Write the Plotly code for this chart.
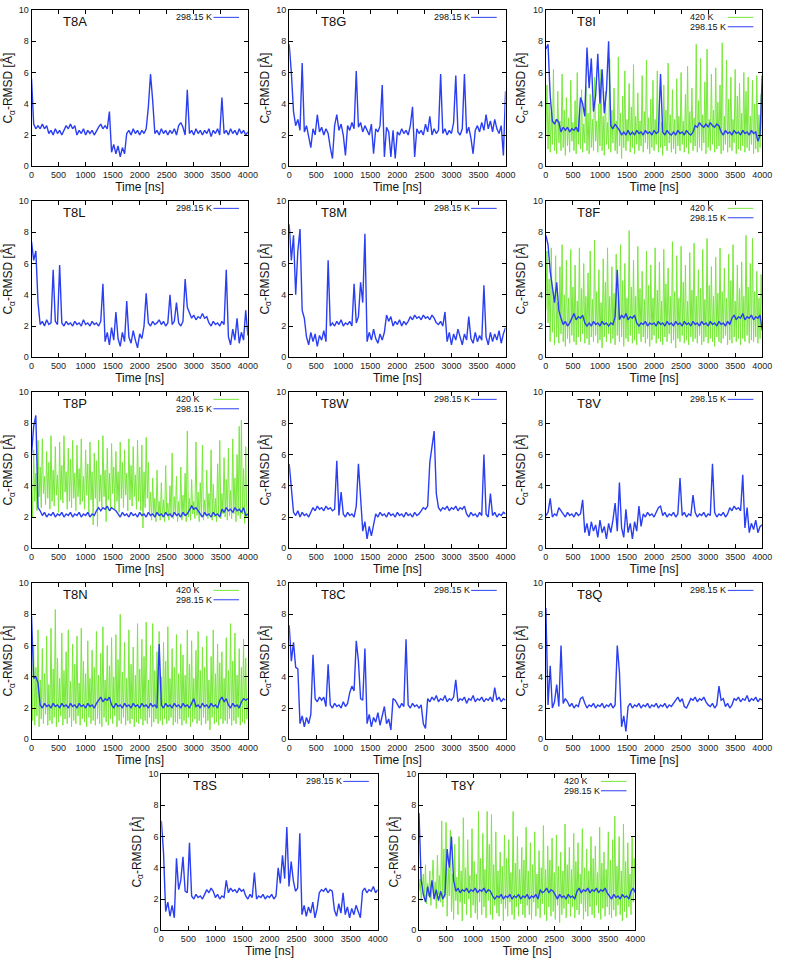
import plotly.graph_objects as go

# time grids (ns)
t = list(range(0, 4001, 40))
tg = list(range(0, 4001, 20))

# 298.15 K traces, sampled every 40 ns
T8A = [5.6, 2.7, 2.4, 2.6, 2.4, 2.7, 2.4, 2.6, 2.1, 2.3,
       2.0, 2.4, 2.1, 2.3, 2.0, 2.3, 2.6, 2.4, 2.7, 2.4,
       2.6, 2.0, 2.3, 2.1, 2.4, 2.0, 2.3, 2.1, 2.3, 2.0,
       2.3, 2.5, 2.7, 2.4, 2.6, 2.4, 3.5, 0.9, 1.4, 0.8,
       1.3, 0.6, 1.2, 0.8, 2.1, 2.3, 2.0, 2.4, 2.1, 2.3,
       2.0, 2.3, 2.1, 2.4, 3.8, 5.9, 4.2, 2.1, 2.3, 2.0,
       2.4, 2.1, 2.3, 2.0, 2.3, 2.1, 2.4, 2.0, 2.6, 2.8,
       2.5, 2.0, 4.9, 2.1, 2.3, 2.0, 2.4, 2.1, 2.3, 2.0,
       2.3, 2.1, 2.4, 1.9, 2.3, 2.1, 2.4, 2.0, 4.4, 2.1,
       2.3, 2.0, 2.4, 2.1, 2.3, 2.0, 2.4, 2.1, 2.3, 2.0, 2.2]
T8G = [7.8, 6.0, 3.5, 2.6, 3.0, 2.3, 6.6, 2.2, 2.6, 2.0,
       1.2, 2.4, 2.0, 3.3, 2.2, 2.5, 2.0, 2.4, 2.1, 1.2,
       0.5, 2.6, 3.3, 2.3, 2.7, 2.0, 0.7, 2.6, 2.3, 2.8,
       2.4, 6.1, 2.5, 2.8, 2.2, 2.6, 2.3, 2.0, 2.7, 0.8,
       2.4, 2.2, 2.6, 5.2, 0.6, 2.5, 2.2, 0.6, 2.3, 0.5,
       2.2, 2.0, 2.4, 2.1, 2.3, 2.0, 2.6, 3.8, 0.6, 2.4,
       2.1, 2.3, 2.0, 2.7, 2.2, 3.2, 2.0, 2.4, 2.1, 2.3,
       5.9, 2.1, 2.4, 2.0, 2.3, 2.1, 2.8, 5.8, 2.2, 2.0,
       2.4, 5.9, 2.1, 2.5, 1.8, 0.8, 2.3, 2.6, 2.2, 2.8,
       2.3, 3.3, 2.4, 2.9, 2.2, 3.0, 2.4, 2.1, 2.6, 0.7, 4.8]
T8I = [7.5, 7.8, 4.5, 2.9, 2.7, 3.0, 2.8, 2.2, 2.5, 2.3,
       2.5, 2.2, 2.4, 2.3, 2.5, 2.2, 4.4, 4.0, 3.2, 7.6,
       5.0, 6.9, 3.5, 4.5, 7.2, 4.0, 6.2, 3.4, 4.8, 8.0,
       2.6, 2.4, 2.7, 2.5, 2.3, 2.0, 2.2, 2.0, 2.3, 2.0,
       2.2, 2.0, 2.3, 2.1, 2.2, 2.0, 2.3, 2.1, 2.2, 2.0,
       2.3, 2.1, 2.2, 5.9, 2.2, 2.0, 2.3, 2.1, 2.0, 2.2,
       2.0, 2.3, 2.1, 2.2, 2.0, 2.3, 2.1, 2.0, 2.2, 2.6,
       2.5, 2.8, 2.6, 2.5, 2.7, 2.5, 2.8, 2.6, 2.5, 2.7,
       2.6, 2.2, 2.0, 2.3, 2.1, 2.2, 2.0, 2.3, 2.1, 2.2,
       2.0, 2.3, 2.1, 2.2, 2.0, 2.3, 2.1, 2.2, 1.6, 2.0, 5.8]
T8L = [7.4, 6.2, 6.8, 3.5, 2.1, 2.3, 2.0, 2.4, 2.1, 2.2,
       5.6, 2.3, 2.1, 5.9, 2.2, 2.0, 2.3, 2.1, 2.2, 2.0,
       2.3, 2.1, 2.2, 2.0, 2.4, 2.1, 2.2, 2.0, 2.3, 2.1,
       2.2, 2.0, 2.3, 4.7, 1.0, 1.6, 0.8, 1.9, 1.1, 2.9,
       1.2, 0.7, 1.6, 1.0, 3.6, 1.3, 0.9, 1.7, 1.1, 0.6,
       1.5, 1.2, 2.0, 4.1, 2.2, 2.0, 2.3, 2.1, 2.2, 2.4,
       2.1, 2.3, 2.0, 2.2, 4.0, 2.1, 2.3, 3.5, 2.2, 2.0,
       2.3, 5.0, 3.2, 2.9, 2.5, 2.7, 2.4, 2.6, 2.5, 2.8,
       2.5, 2.6, 2.2, 2.0, 2.3, 2.1, 2.2, 2.0, 2.3, 2.1,
       5.6, 1.3, 0.8, 1.8, 1.1, 2.5, 0.9, 1.6, 1.1, 3.0, 1.4]
T8M = [8.5, 6.2, 7.8, 4.0, 6.8, 8.2, 3.0, 2.5, 1.3, 0.8,
       1.6, 1.0, 1.5, 0.7, 1.4, 1.1, 1.7, 1.0, 6.2, 2.0,
       2.2, 2.0, 2.3, 2.1, 2.4, 2.0, 2.2, 2.1, 2.3, 2.0,
       4.7, 2.2, 2.6, 4.8, 3.5, 7.9, 1.0, 1.6, 1.1, 1.8,
       1.2, 0.9, 1.5, 1.1, 1.6, 2.7, 2.3, 2.6, 2.0, 2.3,
       2.1, 2.4, 2.0, 2.3, 2.1, 2.3, 2.6, 2.4, 2.7, 2.5,
       2.6, 2.4, 2.7, 2.5, 2.6, 2.4, 2.7, 2.5, 2.2, 2.1,
       2.3, 2.0, 2.9, 1.0, 1.6, 0.8, 1.5, 1.1, 1.8, 1.2,
       0.8, 1.5, 1.1, 2.6, 1.2, 0.9, 1.6, 1.0, 1.4, 1.1,
       4.6, 1.3, 0.8, 1.6, 1.0, 1.5, 1.1, 1.7, 0.9, 1.5, 1.9]
T8F = [7.8, 7.2, 5.5, 4.5, 3.5, 4.8, 3.0, 2.5, 2.1, 2.3,
       2.0, 2.2, 2.5, 2.8, 2.4, 2.6, 2.5, 2.7, 2.2, 2.0,
       2.2, 2.0, 2.3, 2.1, 2.2, 2.0, 2.3, 2.1, 2.2, 2.0,
       2.2, 2.1, 2.6, 5.6, 2.4, 2.7, 2.5, 2.8, 2.4, 2.6,
       2.5, 2.7, 2.2, 2.0, 2.2, 2.1, 2.3, 2.0, 2.2, 2.1,
       2.2, 2.0, 2.3, 2.1, 2.2, 2.0, 2.3, 2.1, 2.2, 2.0,
       2.3, 2.1, 2.2, 2.0, 2.3, 2.1, 2.2, 2.0, 2.3, 2.1,
       2.2, 2.0, 2.3, 2.1, 2.2, 2.0, 2.3, 2.1, 2.2, 2.0,
       2.3, 2.1, 2.2, 2.0, 2.3, 2.1, 2.5, 2.7, 2.4, 2.6,
       2.5, 2.8, 2.4, 2.6, 2.5, 2.7, 2.4, 2.6, 2.5, 2.7, 1.7]
T8P = [6.0, 7.8, 8.5, 2.6, 2.4, 2.1, 2.3, 2.0, 2.2, 2.1,
       2.3, 2.0, 2.2, 2.1, 2.3, 2.0, 2.2, 2.1, 2.3, 2.0,
       2.2, 2.1, 2.3, 2.0, 2.2, 2.1, 2.3, 2.0, 2.2, 2.1,
       2.4, 2.6, 2.4, 2.6, 2.5, 2.7, 2.4, 2.6, 2.5, 2.4,
       2.2, 2.0, 2.3, 2.1, 2.2, 2.0, 2.3, 2.1, 2.2, 2.0,
       2.3, 2.1, 2.2, 2.0, 2.3, 2.1, 2.2, 2.0, 2.3, 2.1,
       2.2, 2.0, 2.3, 2.1, 2.2, 2.0, 2.3, 2.1, 2.2, 2.0,
       2.3, 2.1, 2.2, 2.5, 2.7, 2.5, 2.6, 2.4, 2.2, 2.0,
       2.3, 2.1, 2.2, 2.0, 2.3, 2.1, 2.2, 2.0, 2.5, 2.3,
       2.6, 2.4, 2.5, 2.3, 2.6, 2.4, 2.5, 2.3, 2.6, 2.1, 2.2]
T8W = [5.4, 3.6, 2.3, 2.1, 2.4, 2.0, 2.3, 2.1, 2.2, 2.0,
       2.3, 2.6, 2.4, 2.7, 2.5, 2.6, 2.4, 2.7, 2.5, 2.6,
       2.4, 2.5, 5.6, 2.1, 3.6, 2.2, 2.0, 2.3, 2.1, 2.2,
       2.0, 2.7, 5.4, 3.0, 1.1, 1.7, 0.6, 1.4, 0.8, 1.5,
       2.2, 2.0, 2.3, 2.1, 2.2, 2.0, 2.3, 2.1, 2.2, 2.0,
       2.3, 2.1, 2.2, 2.0, 2.3, 2.1, 2.2, 2.0, 2.3, 2.1,
       2.2, 2.4, 2.6, 2.5, 2.7, 5.5, 6.6, 7.5, 3.5, 2.6,
       2.4, 2.6, 2.5, 2.7, 2.4, 2.6, 2.5, 2.7, 2.4, 2.6,
       2.5, 2.7, 2.2, 2.0, 2.3, 2.1, 2.2, 2.0, 2.3, 2.1,
       6.0, 2.2, 2.0, 3.5, 2.1, 2.3, 2.0, 2.2, 2.1, 2.3, 2.2]
T8V = [2.1, 2.3, 3.2, 2.0, 2.2, 2.1, 2.6, 2.4, 2.2, 2.0,
       2.3, 2.1, 2.2, 2.0, 2.3, 2.1, 2.2, 3.1, 1.0, 1.6,
       0.8, 1.7, 1.1, 1.5, 0.7, 1.8, 1.0, 1.4, 0.6, 1.6,
       1.0, 1.8, 2.9, 1.1, 4.2, 1.3, 0.7, 2.5, 1.0, 1.6,
       0.6, 1.7, 1.1, 2.7, 1.4, 2.2, 2.0, 2.3, 2.1, 2.2,
       2.0, 2.3, 2.6, 2.7, 2.1, 2.3, 2.0, 2.2, 2.1, 2.3,
       2.0, 2.2, 4.5, 2.1, 2.3, 2.0, 2.2, 2.1, 3.4, 2.3,
       2.0, 2.2, 2.1, 2.3, 2.0, 2.2, 2.1, 5.4, 2.3, 2.0,
       2.2, 2.1, 2.3, 2.0, 2.2, 2.6, 2.4, 2.7, 2.5, 2.6,
       2.4, 4.7, 1.3, 2.6, 1.0, 1.6, 1.2, 1.8, 1.0, 1.4, 1.5]
T8N = [7.9, 3.9, 4.0, 3.6, 2.2, 2.0, 2.3, 2.1, 2.2, 2.0,
       2.3, 2.1, 2.2, 2.0, 2.3, 2.1, 2.2, 2.0, 2.3, 2.1,
       2.2, 2.0, 2.3, 2.1, 2.2, 2.0, 2.3, 2.1, 2.2, 2.0,
       2.3, 2.5, 2.7, 2.4, 2.6, 2.5, 2.7, 2.2, 2.0, 2.3,
       2.1, 2.2, 2.0, 2.3, 2.1, 2.2, 2.0, 2.3, 2.1, 2.2,
       2.0, 2.3, 2.1, 2.2, 2.0, 2.3, 2.1, 2.2, 2.0, 6.1,
       2.2, 2.0, 2.3, 2.1, 2.2, 2.0, 2.3, 2.1, 2.2, 2.0,
       2.3, 2.1, 2.2, 2.0, 2.3, 2.6, 2.1, 2.2, 2.0, 2.3,
       2.1, 2.2, 2.0, 2.3, 2.1, 2.2, 2.0, 2.5, 2.7, 2.4,
       2.6, 2.2, 2.0, 2.3, 2.1, 2.2, 2.0, 2.4, 2.6, 2.5, 2.6]
T8C = [7.3, 5.0, 6.2, 4.6, 4.5, 1.0, 1.5, 0.8, 1.4, 1.0,
       1.6, 5.4, 2.6, 2.4, 2.7, 2.5, 2.7, 2.1, 4.8, 2.2,
       2.0, 2.3, 2.1, 2.2, 2.0, 2.4, 2.1, 2.3, 3.0, 3.4,
       3.1, 6.3, 5.0, 2.6, 2.5, 5.8, 1.0, 1.6, 0.8, 1.4,
       1.1, 1.7, 0.9, 1.5, 2.1, 1.0, 1.3, 0.6, 2.6, 2.5,
       2.2, 2.0, 2.3, 2.1, 6.4, 2.2, 2.0, 2.3, 2.1, 2.2,
       2.0, 2.2, 1.0, 0.7, 2.6, 2.4, 2.7, 2.5, 2.8, 2.4,
       2.6, 2.5, 2.8, 2.4, 2.6, 2.5, 2.7, 3.8, 2.4, 2.6,
       2.5, 2.7, 2.3, 2.6, 2.5, 2.8, 2.4, 2.6, 2.5, 2.7,
       2.4, 2.6, 2.5, 2.7, 2.4, 3.3, 2.5, 2.7, 2.4, 2.6, 2.5]
T8Q = [8.4, 2.2, 4.7, 2.0, 2.4, 3.5, 2.1, 6.0, 2.3, 2.6,
       2.4, 2.1, 2.3, 2.0, 2.2, 2.1, 2.6, 2.7, 2.3, 2.0,
       2.2, 2.1, 2.3, 2.0, 2.2, 2.1, 2.3, 2.0, 2.2, 2.1,
       2.3, 2.0, 2.2, 6.0, 4.3, 0.8, 1.5, 0.5, 2.1, 2.3,
       2.0, 2.2, 2.1, 2.3, 2.0, 2.2, 2.1, 2.3, 2.0, 2.2,
       2.1, 2.3, 2.0, 2.2, 2.1, 2.3, 2.0, 2.2, 2.1, 2.3,
       2.5, 2.7, 2.4, 2.6, 2.1, 2.0, 2.3, 2.6, 2.5, 2.7,
       2.4, 2.6, 2.5, 2.7, 2.4, 2.2, 2.1, 2.3, 2.0, 2.2,
       3.4, 2.5, 2.6, 2.1, 2.3, 2.0, 2.2, 2.6, 2.5, 2.7,
       2.4, 2.6, 2.5, 2.8, 2.4, 2.6, 2.5, 2.7, 2.4, 2.6, 2.5]
T8S = [7.0, 5.0, 1.2, 1.8, 0.9, 1.6, 0.8, 4.6, 2.6, 3.2,
       4.7, 2.5, 2.4, 5.6, 2.2, 2.0, 2.3, 2.1, 2.2, 2.0,
       2.3, 2.6, 2.4, 2.7, 2.5, 2.1, 2.3, 2.0, 2.2, 2.1,
       3.2, 2.4, 2.7, 2.5, 2.6, 2.4, 2.7, 2.5, 2.6, 2.2,
       2.0, 2.3, 2.1, 3.7, 2.0, 2.2, 2.1, 2.3, 2.0, 2.2,
       2.1, 2.3, 2.0, 2.2, 4.0, 3.0, 4.8, 3.3, 6.6, 2.8,
       4.4, 3.2, 2.5, 2.7, 6.2, 1.0, 1.6, 0.9, 1.5, 1.1,
       1.8, 0.8, 1.4, 2.4, 2.6, 2.5, 2.7, 2.4, 2.6, 2.5,
       1.3, 0.9, 1.7, 1.1, 2.4, 1.0, 1.5, 0.8, 1.4, 1.0,
       1.6, 1.2, 0.8, 2.5, 2.7, 2.4, 2.6, 2.5, 2.8, 2.4, 2.6]
T8Y = [7.5, 3.2, 2.3, 1.8, 2.8, 2.1, 3.2, 2.0, 2.6, 1.9,
       2.5, 2.0, 2.3, 5.2, 4.0, 6.0, 3.2, 2.5, 2.7, 2.4,
       2.6, 2.5, 2.7, 2.4, 2.6, 2.5, 2.7, 2.4, 2.6, 2.5,
       2.7, 2.4, 2.6, 2.5, 2.2, 2.0, 2.2, 2.1, 2.3, 2.0,
       2.2, 2.1, 2.3, 2.0, 2.2, 2.1, 2.3, 2.0, 2.2, 2.1,
       2.3, 2.0, 2.2, 2.1, 2.3, 2.0, 2.6, 2.4, 2.5, 2.7,
       2.4, 2.6, 2.5, 2.2, 2.0, 2.3, 2.1, 2.2, 2.0, 2.3,
       2.1, 2.2, 2.0, 2.5, 2.7, 2.4, 2.6, 2.5, 2.7, 2.4,
       2.6, 2.5, 2.7, 2.4, 2.6, 2.5, 2.7, 2.4, 2.2, 2.0,
       2.3, 2.1, 2.2, 2.0, 2.3, 2.1, 2.2, 2.0, 2.5, 2.7, 2.4]

# 420 K traces, sampled every 20 ns
T8I_420 = [2.0, 5.2, 1.1, 4.0, 0.9, 3.5, 1.4, 6.2, 1.0, 3.0, 0.8, 4.8, 1.5, 2.9, 1.0, 5.9, 1.2, 3.6, 0.7, 4.4,
           1.3, 3.1, 0.9, 5.5, 1.6, 2.8, 1.0, 4.2, 0.8, 6.0, 1.4, 3.3, 1.1, 4.9, 0.9, 2.7, 1.5, 5.1, 1.0, 3.4,
           0.8, 4.6, 1.2, 3.0, 1.0, 5.7, 1.6, 2.9, 0.9, 4.0, 1.3, 6.2, 1.0, 3.2, 0.7, 4.8, 1.4, 2.8, 1.1, 6.9,
           0.9, 3.6, 1.5, 5.0, 1.0, 2.9, 0.8, 7.0, 1.3, 3.4, 0.5, 4.5, 1.2, 6.1, 1.0, 3.0, 1.6, 5.3, 0.9, 3.8,
           1.2, 6.5, 0.8, 3.2, 1.4, 4.7, 1.0, 2.9, 1.3, 5.8, 0.9, 3.5, 1.5, 6.8, 1.1, 3.1, 0.8, 4.3, 1.2, 5.5,
           1.0, 3.0, 1.4, 6.1, 0.9, 4.0, 1.2, 2.8, 0.7, 5.2, 1.3, 3.6, 1.0, 6.6, 1.5, 3.3, 0.9, 4.9, 1.1, 3.0,
           0.8, 5.6, 1.3, 3.2, 1.0, 6.0, 1.4, 2.9, 0.9, 4.6, 1.2, 6.4, 0.8, 3.5, 1.5, 5.0, 1.0, 3.1, 1.3, 7.8,
           0.9, 4.2, 1.2, 6.9, 1.0, 3.3, 1.5, 5.4, 0.8, 7.5, 1.2, 3.0, 1.0, 5.9, 1.4, 3.6, 0.9, 6.3, 1.1, 4.1,
           1.3, 5.2, 0.8, 7.9, 1.0, 3.2, 1.4, 6.8, 0.9, 4.3, 1.2, 5.7, 1.0, 3.0, 1.5, 6.2, 0.8, 4.5, 1.1, 5.3,
           1.0, 3.4, 1.3, 6.0, 0.9, 4.8, 1.2, 5.7, 1.0, 3.2, 1.4, 5.5, 0.8, 4.0, 1.1, 5.8, 0.9, 3.3, 1.2, 4.6, 2.0]
T8F_420 = [3.0, 6.8, 2.2, 5.0, 1.0, 7.0, 1.6, 4.2, 0.8, 6.5, 1.3, 3.5, 0.9, 5.8, 1.5, 7.2, 1.0, 4.0, 0.7, 6.2,
           1.2, 3.8, 0.9, 6.9, 1.4, 4.5, 1.0, 5.9, 0.8, 3.6, 1.3, 7.0, 1.0, 4.4, 1.5, 6.0, 0.9, 3.9, 1.2, 5.4,
           0.8, 6.8, 1.3, 3.7, 1.0, 7.5, 1.4, 4.2, 0.9, 5.6, 1.1, 3.5, 0.6, 6.3, 1.3, 4.8, 1.0, 7.0, 1.5, 3.9,
           0.9, 5.8, 1.2, 4.1, 0.8, 6.6, 1.4, 3.6, 1.0, 7.2, 1.3, 4.9, 0.7, 6.0, 1.2, 3.8, 1.0, 8.1, 1.4, 4.5,
           0.9, 6.2, 1.1, 3.9, 0.8, 7.1, 1.5, 4.4, 1.0, 5.5, 1.3, 3.7, 0.9, 6.8, 1.2, 4.6, 0.7, 5.9, 1.1, 3.8,
           1.4, 7.0, 0.9, 4.3, 1.2, 6.1, 1.0, 3.6, 0.8, 6.9, 1.3, 4.7, 1.0, 5.7, 1.5, 3.9, 0.9, 7.4, 1.1, 4.2,
           0.6, 6.5, 1.2, 3.8, 1.0, 7.1, 1.4, 4.8, 0.9, 5.9, 1.1, 3.6, 0.8, 6.7, 1.3, 4.3, 1.0, 7.3, 1.2, 3.9,
           0.9, 5.6, 1.4, 4.4, 0.8, 6.9, 1.0, 3.7, 1.3, 7.6, 0.9, 4.6, 1.2, 5.8, 1.0, 3.9, 0.7, 6.4, 1.3, 4.1,
           1.0, 7.0, 0.9, 4.2, 1.2, 5.7, 1.4, 3.8, 0.8, 6.6, 1.1, 4.9, 0.9, 7.2, 1.3, 3.6, 1.0, 5.9, 1.2, 4.4,
           0.8, 6.1, 1.2, 3.9, 1.0, 7.8, 1.4, 4.5, 0.9, 6.0, 1.1, 7.6, 1.0, 4.2, 1.3, 5.5, 0.9, 3.8, 1.2, 5.3, 2.5]
T8P_420 = [4.5, 2.0, 6.3, 3.0, 4.8, 2.4, 6.9, 3.3, 5.2, 2.6, 7.0, 3.5, 4.6, 2.8, 6.2, 3.2, 5.5, 2.5, 7.2, 3.0,
           5.0, 2.7, 6.5, 3.4, 4.7, 2.3, 6.8, 3.1, 5.3, 2.9, 7.2, 3.6, 4.9, 2.5, 6.4, 3.0, 5.7, 2.6, 6.9, 3.2,
           4.8, 2.4, 6.6, 3.3, 5.1, 2.8, 7.0, 3.0, 4.6, 2.5, 6.3, 3.4, 5.4, 2.2, 6.8, 3.1, 4.9, 1.5, 6.1, 3.2,
           5.6, 1.4, 6.9, 3.0, 4.7, 2.6, 7.2, 3.3, 5.0, 1.7, 6.4, 3.1, 4.8, 2.4, 6.7, 3.5, 5.2, 2.5, 6.2, 3.0,
           4.9, 2.3, 6.8, 3.2, 5.5, 2.6, 6.3, 3.4, 4.8, 2.4, 7.0, 3.1, 5.3, 2.7, 6.5, 3.3, 4.7, 2.5, 6.9, 3.0,
           5.2, 2.4, 6.6, 1.3, 4.9, 2.6, 7.1, 3.2, 5.5, 2.3, 3.6, 1.8, 4.5, 2.1, 3.2, 1.7, 5.0, 2.2, 3.0, 1.8,
           4.2, 2.0, 3.1, 1.7, 5.3, 2.2, 2.9, 1.8, 4.0, 2.1, 6.1, 1.9, 3.3, 2.2, 4.6, 1.7, 3.0, 2.0, 5.2, 1.8,
           3.4, 2.1, 4.8, 1.7, 7.5, 2.0, 3.2, 1.8, 4.4, 2.2, 3.0, 1.9, 6.8, 2.1, 3.6, 1.7, 4.2, 2.0, 6.6, 1.8,
           3.1, 2.1, 5.0, 1.9, 3.5, 2.2, 6.3, 1.8, 4.1, 2.0, 3.2, 1.7, 5.4, 2.1, 6.9, 1.9, 3.5, 2.2, 5.8, 2.0,
           4.4, 1.8, 6.4, 2.1, 3.7, 1.9, 7.0, 2.2, 4.5, 1.7, 6.0, 2.1, 7.8, 1.9, 8.2, 2.2, 5.1, 1.6, 6.5, 2.0, 2.2]
T8N_420 = [5.5, 1.2, 6.0, 0.9, 4.6, 1.5, 7.0, 0.8, 3.8, 1.3, 5.8, 1.0, 4.2, 1.6, 6.6, 0.9, 3.5, 1.2, 7.1, 1.0,
           4.5, 1.4, 8.3, 0.8, 5.2, 1.1, 3.9, 1.5, 6.8, 0.9, 4.4, 1.3, 5.6, 1.0, 7.0, 1.4, 3.7, 0.8, 6.1, 1.2,
           4.8, 1.0, 6.6, 1.5, 3.6, 0.9, 7.1, 1.3, 5.0, 1.1, 4.2, 0.8, 6.3, 1.4, 3.9, 1.0, 5.7, 1.2, 4.6, 0.9,
           6.9, 1.3, 4.1, 1.0, 5.5, 0.8, 7.2, 1.4, 3.8, 1.1, 6.0, 0.9, 4.7, 1.3, 6.5, 1.0, 4.0, 1.5, 6.7, 0.8,
           5.1, 1.2, 8.0, 1.0, 4.3, 1.4, 6.2, 0.9, 3.9, 1.2, 7.0, 1.0, 4.8, 1.3, 5.9, 0.8, 4.1, 1.1, 7.4, 1.0,
           4.5, 1.3, 6.4, 0.9, 5.3, 1.2, 7.5, 1.0, 3.8, 1.4, 6.0, 0.8, 7.4, 1.1, 4.4, 1.3, 5.6, 1.0, 6.9, 1.2,
           4.0, 0.9, 6.2, 1.3, 5.0, 1.0, 7.2, 1.2, 3.9, 1.4, 5.8, 0.9, 4.6, 1.1, 6.7, 1.0, 4.2, 1.3, 6.1, 0.9,
           5.4, 1.2, 4.1, 1.0, 7.0, 1.4, 4.8, 0.8, 6.3, 1.1, 3.9, 1.3, 5.7, 1.0, 6.9, 1.2, 4.4, 0.9, 5.9, 1.4,
           4.6, 1.0, 6.6, 1.2, 3.8, 0.6, 5.3, 1.4, 7.0, 1.0, 4.2, 1.1, 6.1, 0.9, 4.9, 1.3, 5.6, 1.0, 3.9, 1.2,
           6.5, 1.0, 4.4, 1.3, 7.4, 0.9, 5.0, 1.2, 6.8, 1.0, 4.1, 1.4, 5.8, 0.9, 4.6, 1.1, 6.4, 1.0, 5.2, 1.3, 2.5]
T8Y_420 = [2.5, 3.3, 1.9, 2.8, 3.6, 2.0, 4.2, 1.7, 3.0, 2.2, 3.8, 1.6, 2.9, 4.5, 2.0, 3.1, 1.4, 4.8, 2.3, 3.5,
           1.8, 7.0, 1.5, 5.2, 2.1, 6.9, 0.9, 4.0, 2.2, 6.4, 1.2, 3.6, 0.7, 5.5, 1.9, 3.4, 1.0, 6.0, 1.8, 3.8,
           0.6, 7.2, 1.7, 4.0, 1.0, 5.8, 2.0, 3.5, 0.8, 6.5, 1.6, 4.4, 1.1, 3.6, 0.7, 7.6, 1.8, 4.6, 1.0, 6.2,
           1.5, 3.9, 0.8, 7.6, 1.9, 5.5, 1.0, 7.4, 0.7, 4.2, 1.6, 6.3, 1.1, 3.8, 0.9, 5.0, 1.7, 4.1, 0.6, 6.1,
           1.4, 4.6, 0.9, 5.8, 1.8, 3.7, 1.0, 7.6, 0.7, 4.3, 1.5, 6.0, 0.9, 3.9, 1.7, 5.3, 1.0, 4.5, 0.8, 6.6,
           1.6, 3.8, 1.0, 5.6, 0.7, 4.2, 1.8, 6.3, 0.9, 3.6, 1.4, 5.1, 0.8, 4.0, 1.7, 6.7, 1.0, 3.9, 0.6, 5.4,
           1.5, 4.5, 0.9, 5.9, 1.2, 3.7, 0.7, 6.1, 1.6, 4.1, 0.5, 5.0, 1.0, 3.8, 1.4, 6.8, 0.8, 4.2, 1.7, 5.3,
           0.9, 3.9, 1.5, 6.2, 0.8, 4.4, 1.3, 5.6, 1.0, 3.6, 1.7, 6.5, 0.7, 4.0, 1.2, 5.2, 0.9, 3.8, 1.5, 6.0,
           1.0, 4.6, 0.8, 5.4, 1.6, 3.7, 1.1, 6.6, 0.7, 4.3, 1.4, 5.0, 0.9, 3.9, 1.5, 6.3, 1.0, 4.5, 0.8, 5.8,
           1.3, 7.3, 0.9, 4.1, 1.6, 6.0, 1.0, 3.8, 0.6, 6.8, 1.2, 4.4, 0.8, 5.6, 1.5, 3.6, 1.0, 6.0, 1.8, 4.6, 2.4]

# name, 298.15 K series, 420 K series, panel left/top in px
panels = [
    ("T8A", T8A, None, 29, 5), ("T8G", T8G, None, 291, 5), ("T8I", T8I, T8I_420, 552, 5),
    ("T8L", T8L, None, 29, 198), ("T8M", T8M, None, 291, 198), ("T8F", T8F, T8F_420, 552, 198),
    ("T8P", T8P, T8P_420, 29, 391), ("T8W", T8W, None, 291, 391), ("T8V", T8V, None, 552, 391),
    ("T8N", T8N, T8N_420, 29, 584), ("T8C", T8C, None, 291, 584), ("T8Q", T8Q, None, 552, 584),
    ("T8S", T8S, None, 161, 777), ("T8Y", T8Y, T8Y_420, 423, 777),
]

W, H = 786, 966
PW, PH = 220, 158
BLUE = "#2b3ff2"
GREEN = "#78e83a"
FONT = "Liberation Sans, Arial, sans-serif"

fig = go.Figure()
layout = {}
annotations = []
shapes = []

for i, (name, blue, green, left, top) in enumerate(panels):
    n = i + 1
    sfx = "" if n == 1 else str(n)
    xr, yr = f"x{sfx}", f"y{sfx}"

    if green is not None:
        fig.add_trace(go.Scatter(x=tg, y=green, xaxis=xr, yaxis=yr, mode="lines",
                                 line=dict(color=GREEN, width=1), showlegend=False))
    fig.add_trace(go.Scatter(x=t, y=blue, xaxis=xr, yaxis=yr, mode="lines",
                             line=dict(color=BLUE, width=1.4), showlegend=False))

    axis_common = dict(showline=True, linecolor="black", linewidth=1, mirror="ticks",
                       ticks="inside", ticklen=4, tickcolor="black", showgrid=False,
                       zeroline=False, tickfont=dict(size=9, color="#222", family=FONT))
    layout[f"xaxis{sfx}"] = dict(domain=[left / W, (left + PW) / W], anchor=yr,
                                 range=[0, 4000], tickvals=list(range(0, 4001, 500)),
                                 title=dict(text="Time [ns]", font=dict(size=12, color="#111", family=FONT), standoff=2),
                                 **axis_common)
    layout[f"yaxis{sfx}"] = dict(domain=[1 - (top + PH) / H, 1 - top / H], anchor=xr,
                                 range=[0, 10], tickvals=[0, 2, 4, 6, 8, 10],
                                 title=dict(text="C<sub>α</sub>-RMSD [Å]", font=dict(size=12, color="#111", family=FONT), standoff=4),
                                 **axis_common)

    xd, yd = f"x{sfx} domain", f"y{sfx} domain"
    annotations.append(dict(text=name, xref=xd, yref=yd, x=30 / PW, y=1 - 12 / PH,
                            xanchor="left", yanchor="middle", showarrow=False,
                            font=dict(size=13, color="#111", family=FONT)))

    items = [("420 K", GREEN), ("298.15 K", BLUE)] if green is not None else [("298.15 K", BLUE)]
    for k, (label, col) in enumerate(items):
        yy = 1 - (7.5 + 9.5 * k) / PH
        annotations.append(dict(text=label, xref=xd, yref=yd, x=(PW - 75) / PW, y=yy,
                                xanchor="left", yanchor="middle", showarrow=False,
                                font=dict(size=9, color="#111", family=FONT)))
        shapes.append(dict(type="line", xref=xd, yref=yd, x0=(PW - 35) / PW, x1=(PW - 9) / PW,
                           y0=yy, y1=yy, line=dict(color=col, width=1)))

fig.update_layout(width=W, height=H, margin=dict(l=0, r=0, t=0, b=0),
                  plot_bgcolor="white", paper_bgcolor="white",
                  font=dict(family=FONT), annotations=annotations, shapes=shapes, **layout)

fig.write_html("out.html", config={"displayModeBar": False},
               post_script="document.body.style.margin='0';")
